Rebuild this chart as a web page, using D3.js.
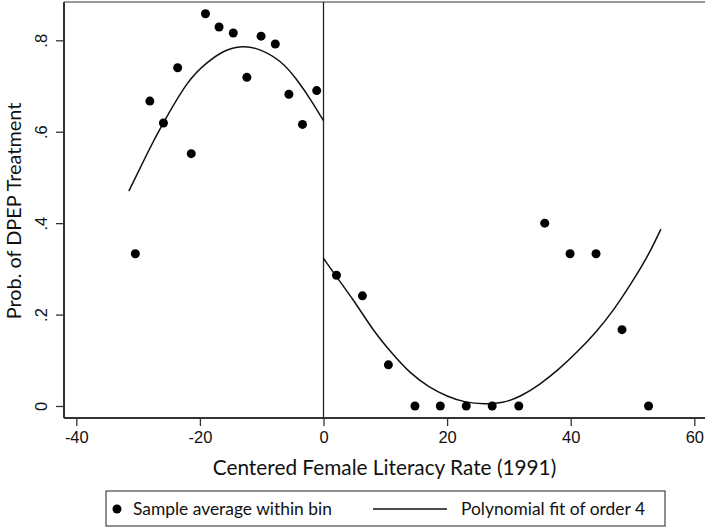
<!DOCTYPE html>
<html>
<head>
<meta charset="utf-8">
<script src="https://cdn.jsdelivr.net/npm/d3@7.9.0/dist/d3.min.js"></script>
<style>
  body { margin: 0; background: #fff; }
  svg { display: block; font-family: Lato, "Open Sans", sans-serif; }
</style>
</head>
<body>
<div id="chart"></div>
<script>
// bin averages, left of cutoff
const leftX = [-30.45, -28.1, -25.9, -23.6, -21.4, -19.1, -16.9, -14.6, -12.4, -10.1, -7.8, -5.6, -3.4, -1.1];
const leftY = [0.333, 0.667, 0.619, 0.740, 0.552, 0.858, 0.829, 0.816, 0.719, 0.809, 0.792, 0.682, 0.616, 0.690];
// bin averages, right of cutoff
const rightX = [2.1, 6.3, 10.5, 14.8, 18.9, 23.1, 27.3, 31.6, 35.8, 39.9, 44.1, 48.3, 52.6];
const rightY = [0.286, 0.241, 0.090, 0, 0, 0, 0, 0, 0.400, 0.333, 0.333, 0.167, 0];

// fitted curve
const fitLeftX = [-31.5, -28.5, -26.0, -22.1, -18.9, -16.2, -13.2, -10.3, -7.0, -4.3, -1.9, 0];
const fitLeftY = [0.470, 0.553, 0.617, 0.704, 0.750, 0.775, 0.786, 0.779, 0.753, 0.713, 0.666, 0.624];
const fitRightX = [0, 2.1, 5, 8, 11, 14, 17, 20, 23, 26, 29, 32, 35, 38, 41, 44, 47, 50, 52.5, 54.6];
const fitRightY = [0.323, 0.283, 0.228, 0.168, 0.117, 0.074, 0.043, 0.022, 0.009, 0.005, 0.008, 0.023, 0.048, 0.080, 0.118, 0.161, 0.212, 0.273, 0.330, 0.387];

const xTicks = [-40, -20, 0, 20, 40, 60];
const yTicks = [0, 0.2, 0.4, 0.6, 0.8];
const yTickLabels = ["0", ".2", ".4", ".6", ".8"];

const W = 705, H = 529;
const plot = { left: 64, right: 705, top: 2, bottom: 418 };

const x = d3.scaleLinear().domain([-40, 60]).range([76.3, 694.3]);
const y = d3.scaleLinear().domain([0, 0.8]).range([406, 40.3]);

const svg = d3.select("#chart").append("svg")
  .attr("width", W)
  .attr("height", H);

// top frame line
svg.append("line")
  .attr("x1", plot.left).attr("x2", plot.right)
  .attr("y1", plot.top).attr("y2", plot.top)
  .attr("stroke", "#777").attr("stroke-width", 1.5);

// cutoff line
svg.append("line")
  .attr("x1", x(0)).attr("x2", x(0))
  .attr("y1", plot.top).attr("y2", plot.bottom)
  .attr("stroke", "#222").attr("stroke-width", 1.3);

// axes
const xAxis = d3.axisBottom(x)
  .tickValues(xTicks)
  .tickSize(8)
  .tickPadding(5)
  .tickFormat(d3.format("d"));

const gx = svg.append("g")
  .attr("transform", `translate(0,${plot.bottom})`)
  .call(xAxis);
gx.select(".domain")
  .attr("d", `M${plot.left},0H${plot.right}`)
  .attr("stroke", "#333").attr("stroke-width", 2);
gx.selectAll(".tick line").attr("stroke", "#333").attr("stroke-width", 1.3);
gx.selectAll(".tick text")
  .attr("font-size", 16.5).attr("fill", "#111")
  .text((d) => d < 0 ? "-" + Math.abs(d) : d);

const yAxis = d3.axisLeft(y)
  .tickValues(yTicks)
  .tickSize(8)
  .tickPadding(8)
  .tickFormat((d, i) => yTickLabels[i]);

const gy = svg.append("g")
  .attr("transform", `translate(${plot.left},0)`)
  .call(yAxis);
gy.select(".domain")
  .attr("d", `M0,${plot.top}V${plot.bottom}`)
  .attr("stroke", "#333").attr("stroke-width", 2);
gy.selectAll(".tick line").attr("stroke", "#333").attr("stroke-width", 1.3);
gy.selectAll(".tick text")
  .attr("font-size", 16.5).attr("fill", "#111")
  .attr("text-anchor", "middle")
  .attr("dy", 0)
  .attr("transform", "translate(-17,0) rotate(-90)")
  .attr("x", 0);

// axis titles
svg.append("text")
  .attr("x", (213 + 556) / 2)
  .attr("y", 475)
  .attr("text-anchor", "middle")
  .attr("font-size", 20.8)
  .attr("fill", "#111")
  .text("Centered Female Literacy Rate (1991)");

svg.append("text")
  .attr("transform", `translate(21,211) rotate(-90)`)
  .attr("text-anchor", "middle")
  .attr("font-size", 19.9)
  .attr("fill", "#111")
  .text("Prob. of DPEP Treatment");

// fit lines
const line = d3.line()
  .x(d => x(d[0]))
  .y(d => y(d[1]))
  .curve(d3.curveNatural);

[[fitLeftX, fitLeftY], [fitRightX, fitRightY]].forEach(([xs, ys]) => {
  svg.append("path")
    .datum(xs.map((v, i) => [v, ys[i]]))
    .attr("d", line)
    .attr("fill", "none")
    .attr("stroke", "#111")
    .attr("stroke-width", 1.5);
});

// points
const pts = leftX.map((v, i) => [v, leftY[i]])
  .concat(rightX.map((v, i) => [v, rightY[i]]));

svg.selectAll("circle.bin")
  .data(pts)
  .join("circle")
  .attr("class", "bin")
  .attr("cx", d => x(d[0]))
  .attr("cy", d => y(d[1]))
  .attr("r", 4.5)
  .attr("fill", "#000");

// legend
const lg = svg.append("g").attr("class", "legend");
lg.append("rect")
  .attr("x", 106).attr("y", 491)
  .attr("width", 559).attr("height", 35)
  .attr("fill", "#fff")
  .attr("stroke", "#444").attr("stroke-width", 1.2);
lg.append("circle")
  .attr("cx", 117).attr("cy", 509).attr("r", 4.5).attr("fill", "#000");
lg.append("text")
  .attr("x", 133).attr("y", 515)
  .attr("font-size", 17.4).attr("fill", "#111")
  .text("Sample average within bin");
lg.append("line")
  .attr("x1", 373).attr("x2", 447)
  .attr("y1", 509).attr("y2", 509)
  .attr("stroke", "#111").attr("stroke-width", 1.5);
lg.append("text")
  .attr("x", 461).attr("y", 515)
  .attr("font-size", 17.4).attr("fill", "#111")
  .text("Polynomial fit of order 4");
</script>
</body>
</html>
